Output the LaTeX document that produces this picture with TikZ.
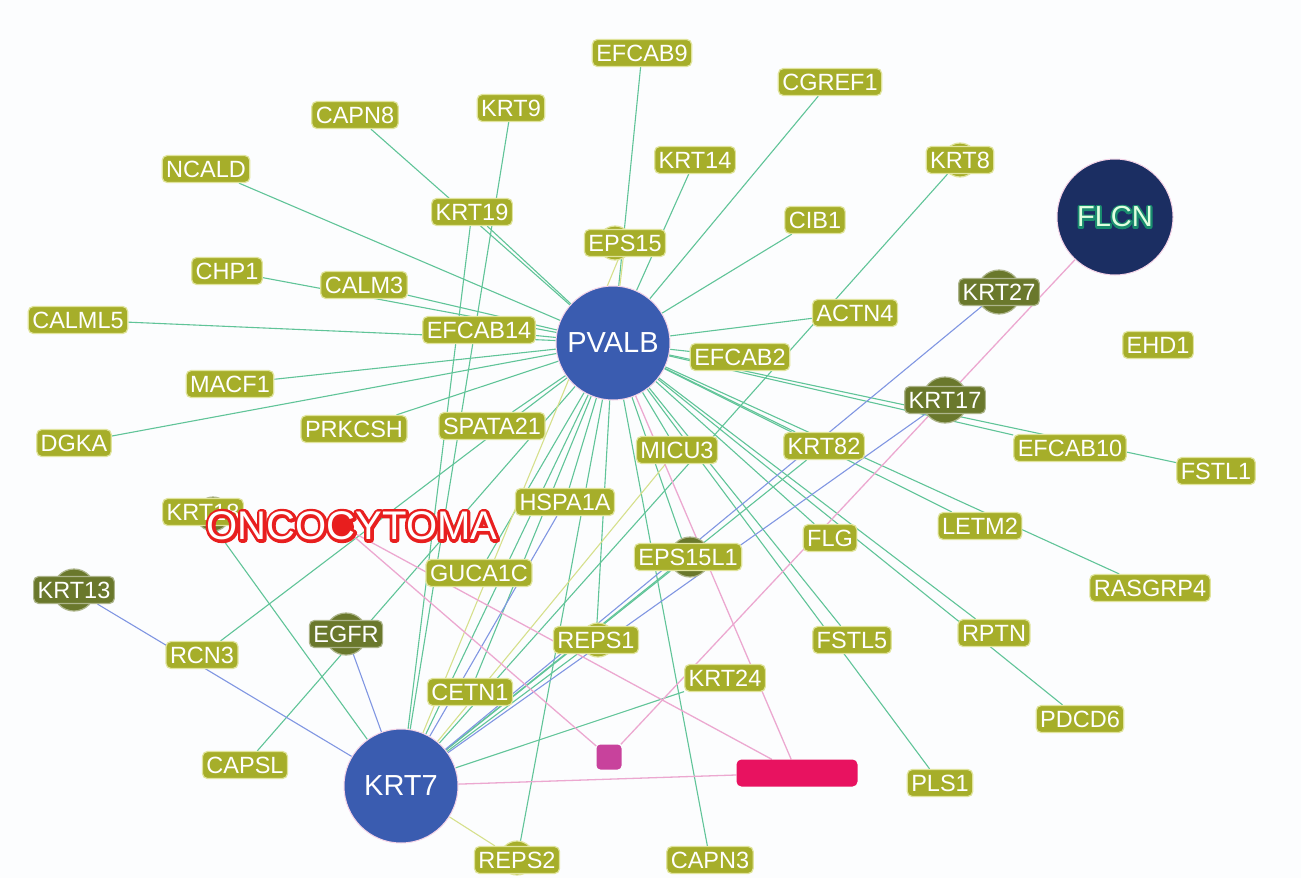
\documentclass[tikz,border=0pt]{standalone}
\usepackage{fontspec}
\setmainfont{Liberation Sans}
\usepackage{tikz}
\pgfdeclarelayer{edges}
\pgfsetlayers{edges,main}

\definecolor{bgcol}{RGB}{252,253,254}
\definecolor{genefill}{RGB}{166,174,42}
\definecolor{geneedge}{RGB}{224,228,156}
\definecolor{genedark}{RGB}{106,120,44}
\definecolor{hubblue}{RGB}{58,92,176}
\definecolor{flcnblue}{RGB}{27,46,98}
\definecolor{lngreen}{RGB}{96,196,152}
\definecolor{lnyellow}{RGB}{214,224,140}
\definecolor{lnblue}{RGB}{128,150,226}
\definecolor{lnpink}{RGB}{236,168,208}
\definecolor{oncored}{RGB}{232,30,30}
\definecolor{sqpink}{RGB}{200,66,156}
\definecolor{barpink}{RGB}{232,18,96}

% outlined word: stroke width, stroke rgb, word (drawn in the node's text colour on top)
\newcommand\rimtext[3]{%
  \makebox[0pt][l]{\special{pdf:literal direct 1 Tr 1 j 1 J #1 w #2 RG}#3\special{pdf:literal direct 0 Tr}}#3}

\begin{document}
\begin{tikzpicture}[x=1pt,y=-1pt,
  gene/.style={rectangle,rounded corners=5pt,fill=genefill,draw=geneedge,line width=1.2pt,
    text=white,font=\fontsize{23.5}{24}\selectfont,inner xsep=4pt,inner ysep=5pt,
    text height=17pt,text depth=0pt},
  darkgene/.style={gene,fill=genedark,draw=genedark!55!white},
  blob/.style={circle,fill=genefill,draw=geneedge,line width=1.2pt,minimum size=#1,inner sep=0pt},
  blob/.default=34pt,
  darkblob/.style={blob=#1,fill=genedark,draw=genedark!55!white},
  darkblob/.default=44pt,
  hub/.style={circle,fill=hubblue,draw=lnpink!50!white,line width=1pt,minimum size=114pt,
    inner sep=0pt,text=white,font=\fontsize{29}{30}\selectfont},
  grn/.style={draw=lngreen,line width=1.1pt},
  ylw/.style={draw=lnyellow,line width=1.1pt},
  blu/.style={draw=lnblue,line width=1.1pt},
  pnk/.style={draw=lnpink,line width=1.3pt}]

\useasboundingbox (0,0) rectangle (1301,878);
\begin{pgfonlayer}{edges}
  \fill[bgcol] (0,0) rectangle (1301,878);
\end{pgfonlayer}

% bumps under some labels
\node[darkblob] at (999,292) {};
\node[darkblob=46pt] at (945,400) {};
\node[darkblob=42pt] at (74,590) {};
\node[darkblob=42pt] at (346,634) {};
\node[darkblob=34pt] at (213,514) {};
\node[darkblob=40pt] at (690,557) {};
\node[blob] at (615,243) {};
\node[blob] at (598,640) {};
\node[blob] at (517,858) {};
\node[blob] at (960,160) {};

% hubs
\node[hub] (PVALB) at (613,343) {PVALB};
\node[hub] (KRT7) at (401,786) {KRT7};
\node[hub,fill=flcnblue,minimum size=116pt,text=white!88!green]
  (FLCN) at (1115,217) {\rimtext{4}{0.1 0.55 0.43}{FLCN}};

\node[rectangle,rounded corners=4pt,fill=sqpink,minimum width=25pt,minimum height=25pt] (sq) at (609,757) {};
\node[rectangle,rounded corners=5pt,fill=barpink,minimum width=121pt,minimum height=27pt] (bar) at (797,773) {};

% genes
\node[gene] (EFCAB9) at (642,53) {EFCAB9};
\node[gene] (CGREF1) at (830,82) {CGREF1};
\node[gene] (KRT9) at (511,108) {KRT9};
\node[gene] (CAPN8) at (355,115) {CAPN8};
\node[gene] (KRT14) at (695,160) {KRT14};
\node[gene] (NCALD) at (206,169) {NCALD};
\node[gene] (KRT8) at (960,160) {KRT8};
\node[gene] (KRT19) at (472,212) {KRT19};
\node[gene] (CIB1) at (815,220) {CIB1};
\node[gene] (EPS15) at (625,243) {EPS15};
\node[gene] (CHP1) at (227,271) {CHP1};
\node[gene] (CALM3) at (364,285) {CALM3};
\node[darkgene] (KRT27) at (999,292) {KRT27};
\node[gene] (ACTN4) at (855,313) {ACTN4};
\node[gene] (CALML5) at (78,320) {CALML5};
\node[gene] (EFCAB14) at (479,330) {EFCAB14};
\node[gene] (EHD1) at (1158,345) {EHD1};
\node[gene] (EFCAB2) at (740,357) {EFCAB2};
\node[gene] (MACF1) at (230,384) {MACF1};
\node[darkgene] (KRT17) at (945,400) {KRT17};
\node[gene] (DGKA) at (74,443) {DGKA};
\node[gene] (PRKCSH) at (354,429) {PRKCSH};
\node[gene] (SPATA21) at (492,426) {SPATA21};
\node[gene] (MICU3) at (677,450) {MICU3};
\node[gene] (KRT82) at (824,446) {KRT82};
\node[gene] (EFCAB10) at (1070,448) {EFCAB10};
\node[gene] (FSTL1) at (1216,471) {FSTL1};
\node[gene] (KRT18) at (203,512) {KRT18};
\node[gene] (HSPA1A) at (565,502) {HSPA1A};
\node[gene] (LETM2) at (980,526) {LETM2};
\node[gene] (FLG) at (830,538) {FLG};
\node[darkgene] (KRT13) at (74,590) {KRT13};
\node[gene] (GUCA1C) at (479,573) {GUCA1C};
\node[gene] (EPS15L1) at (688,557) {EPS15L1};
\node[gene] (RASGRP4) at (1150,588) {RASGRP4};
\node[darkgene] (EGFR) at (346,634) {EGFR};
\node[gene] (REPS1) at (596,640) {REPS1};
\node[gene] (FSTL5) at (852,640) {FSTL5};
\node[gene] (RPTN) at (994,633) {RPTN};
\node[gene] (RCN3) at (202,655) {RCN3};
\node[gene] (KRT24) at (725,678) {KRT24};
\node[gene] (CETN1) at (470,692) {CETN1};
\node[gene] (PDCD6) at (1080,719) {PDCD6};
\node[gene] (CAPSL) at (245,765) {CAPSL};
\node[gene] (PLS1) at (940,783) {PLS1};
\node[gene] (REPS2) at (517,860) {REPS2};
\node[gene] (CAPN3) at (710,860) {CAPN3};

% disease
\node[circle,fill=oncored,minimum size=22pt] (onco) at (343,527) {};
\node[font=\fontsize{40}{40}\selectfont,text=white] (oncolabel) at (352,526)
  {\rimtext{6}{0.91 0.12 0.12}{ONCOCYTOMA}};

\begin{pgfonlayer}{edges}
  \foreach \g in {EFCAB9,CGREF1,KRT14,CIB1,CAPN8,NCALD,CHP1,CALM3,CALML5,EFCAB14,MACF1,
      DGKA,PRKCSH,SPATA21,ACTN4,EFCAB2,EFCAB10,FSTL1,KRT82,LETM2,RASGRP4,FLG,RPTN,PDCD6,
      FSTL5,PLS1,MICU3,EPS15L1,CAPN3,REPS1,REPS2,HSPA1A,GUCA1C,CETN1,KRT7,RCN3,CAPSL,KRT19}
    \draw[grn] (PVALB) -- (\g);
  \draw[ylw] (PVALB) -- (EPS15);
  \foreach \g in {KRT9,KRT19,KRT8,KRT18,KRT82,KRT24,EPS15L1,REPS1}
    \draw[grn] (KRT7) -- (\g);
  \foreach \g in {EPS15,REPS2,MICU3}
    \draw[ylw] (KRT7) -- (\g);
  \foreach \g in {KRT13,EGFR,KRT27,KRT17,HSPA1A}
    \draw[blu] (KRT7) -- (\g);
  \draw[pnk] (FLCN) -- (sq);
  \draw[pnk] (onco) -- (sq);
  \draw[pnk] (onco) -- (bar);
  \draw[pnk] (PVALB) -- (bar);
  \draw[pnk] (KRT7) -- (bar);
\end{pgfonlayer}
\end{tikzpicture}
\end{document}
